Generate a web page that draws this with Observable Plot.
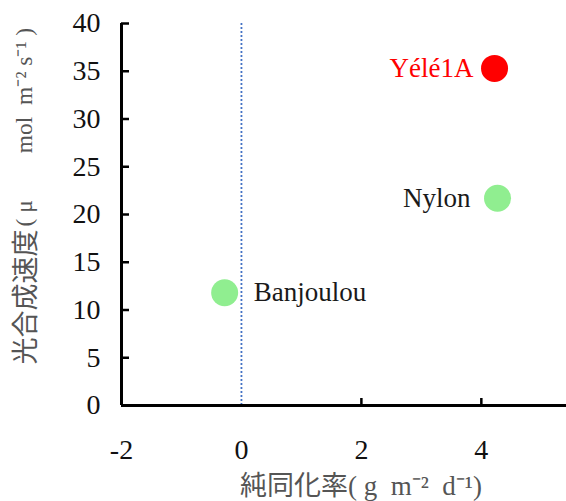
<!DOCTYPE html>
<html>
<head>
<meta charset="utf-8">
<script src="https://cdn.jsdelivr.net/npm/d3@7"></script>
<script src="https://cdn.jsdelivr.net/npm/@observablehq/plot@0.6"></script>
<style>
  html, body { margin: 0; padding: 0; background: #fff; }
  #chart svg { display: block; }
</style>
</head>
<body>
<div id="chart"></div>
<script>
// Varieties: net assimilation rate vs photosynthetic rate
const varieties = ["Yélé1A", "Nylon", "Banjoulou"];
const nar = [4.22, 4.27, -0.28];          // g m-2 d-1
const photo = [35.3, 21.7, 11.8];         // μmol m-2 s-1
const dotColors = ["#ff0000", "#90ee90", "#90ee90"];
const labelColors = ["#ff0000", "#1a1a1a", "#1a1a1a"];

const xTicks = [-2, 0, 2, 4];
const yTicks = [0, 5, 10, 15, 20, 25, 30, 35, 40];
const xTitle = "純同化率( g  m\u207B\u00B2  d\u207B\u00B9)";
// y title: quantity name and its unit
const yTitleName = "光合成速度";
const yTitleUnit = "( μ\u3000\u3000mol  m\u207B\u00B2 s\u207B\u00B9 )";

const data = varieties.map((name, i) => ({
  name, x: nar[i], y: photo[i], fill: dotColors[i], color: labelColors[i]
}));

const serif = "'Liberation Serif', 'Times New Roman', serif";
const titleFont = "'Liberation Serif', 'Noto Sans CJK JP', serif";

// label text placed beside one variety's dot
const label = (name, anchor, dx) =>
  Plot.text(data.filter(d => d.name === name), {
    x: "x", y: "y", text: "name", fill: "color", textAnchor: anchor, dx,
    fontSize: 27, fontFamily: serif
  });

const chart = Plot.plot({
  width: 566,
  height: 501,
  marginLeft: 121,
  marginRight: 0,
  marginTop: 23,
  marginBottom: 96,
  style: { fontFamily: serif, background: "#fff" },
  x: { domain: [-2, 5.42], label: null },
  y: { domain: [0, 40], label: null },
  marks: [
    // zero line for net assimilation
    Plot.ruleX([0], { stroke: "#4472c4", strokeWidth: 1.8, strokeDasharray: "2,2" }),
    // axis lines
    Plot.ruleY([0], { stroke: "#000", strokeWidth: 3 }),
    Plot.ruleX([-2], { stroke: "#000", strokeWidth: 3 }),
    Plot.axisY(yTicks, {
      anchor: "left", tickSize: -8, tickPadding: 29, stroke: "#000", strokeWidth: 2.5,
      fontSize: 28, fill: "#111", label: null, tickFormat: d => String(d)
    }),
    Plot.axisX(xTicks.filter(d => d > 0), {
      anchor: "bottom", tickSize: -7, stroke: "#000", strokeWidth: 2.5, text: null, label: null
    }),
    Plot.axisX(xTicks, {
      anchor: "bottom", tickSize: 0, tickPadding: 34, fontSize: 28, fill: "#111", label: null,
      tickFormat: d => String(d)
    }),
    Plot.dot(data, { x: "x", y: "y", r: 13.5, fill: "fill", stroke: null }),
    label("Yélé1A", "end", -21),
    label("Nylon", "end", -27),
    label("Banjoulou", "start", 29),
    // axis titles
    Plot.text([xTitle], {
      frameAnchor: "bottom", dy: 81, dx: 17, text: d => d, fontSize: 27, fill: "#555",
      fontFamily: titleFont, lineAnchor: "middle", textAnchor: "middle"
    }),
    Plot.text([yTitleName], {
      frameAnchor: "left", dx: -95, dy: 15, rotate: -90, text: d => d, fontSize: 27, fill: "#555",
      fontFamily: titleFont, textAnchor: "end", lineAnchor: "middle"
    }),
    Plot.text([yTitleUnit], {
      frameAnchor: "left", dx: -97, dy: 12, rotate: -90, text: d => d, fontSize: 23.5, fill: "#555",
      fontFamily: titleFont, textAnchor: "start", lineAnchor: "middle"
    })
  ]
});

document.getElementById("chart").append(chart);
</script>
</body>
</html>
